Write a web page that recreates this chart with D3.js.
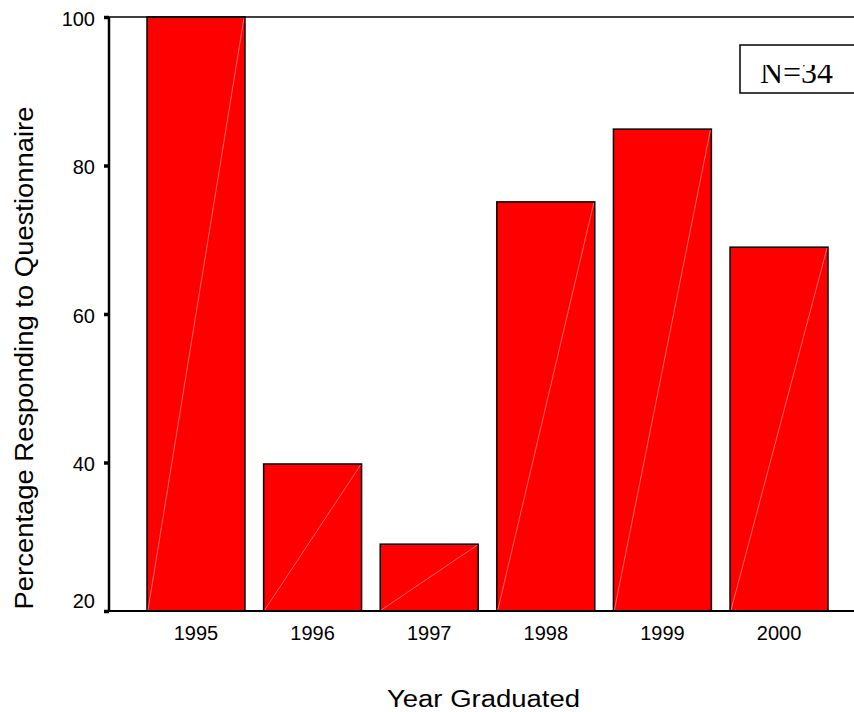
<!DOCTYPE html>
<html>
<head>
<meta charset="utf-8">
<script src="https://cdn.jsdelivr.net/npm/d3@7"></script>
<style>
  body { margin: 0; background: #fff; }
  svg { display: block; }
</style>
</head>
<body>
<script>
const years = ["1995", "1996", "1997", "1998", "1999", "2000"];
const pct = [100, 39.8, 29, 75.1, 84.9, 69];
const yTicks = [20, 40, 60, 80, 100];
const noteText = "N=34";

const W = 854, H = 712;
const plotL = 109, plotR = 866, plotT = 17, plotB = 611;
const sans = "Liberation Sans, Arial, sans-serif";

const svg = d3.select("body").append("svg")
    .attr("width", W).attr("height", H);

const x = d3.scaleBand().domain(years)
    .range([plotL, plotR])
    .paddingInner(0.16).paddingOuter(0.326);

const y = d3.scaleLinear().domain([20, 100]).range([plotB, plotT]);

// bars
const bars = svg.append("g").selectAll("g")
    .data(years.map((d, i) => ({ year: d, v: pct[i] })))
    .join("g");

bars.append("rect")
    .attr("x", d => x(d.year))
    .attr("y", d => y(d.v))
    .attr("width", x.bandwidth())
    .attr("height", d => y(20) - y(d.v))
    .attr("fill", "#ff0000")
    .attr("stroke", "#000")
    .attr("stroke-width", 1.5);

// faint diagonal streak inside each bar
bars.append("line")
    .attr("x1", d => x(d.year) + 1)
    .attr("y1", y(20) - 1)
    .attr("x2", d => x(d.year) + x.bandwidth() - 1)
    .attr("y2", d => y(d.v) + 1)
    .attr("stroke", "#ff8080")
    .attr("stroke-width", 0.8);

// frame lines
svg.append("line").attr("x1", plotL).attr("x2", W).attr("y1", plotT).attr("y2", plotT)
    .attr("stroke", "#000").attr("stroke-width", 1.5);
svg.append("line").attr("x1", plotL).attr("x2", W).attr("y1", plotB).attr("y2", plotB)
    .attr("stroke", "#000").attr("stroke-width", 2);

// y axis
const yAxis = svg.append("g")
    .attr("transform", `translate(${plotL},0)`)
    .call(d3.axisLeft(y).tickValues(yTicks).tickSize(5).tickPadding(9).tickFormat(d3.format("d")));
yAxis.select(".domain").attr("stroke", "#000").attr("stroke-width", 2.5)
    .attr("d", `M0,${plotT}V${plotB}`);
yAxis.selectAll(".tick line").attr("stroke", "#000").attr("stroke-width", 3.5);
yAxis.selectAll(".tick text")
    .attr("font-family", sans)
    .attr("font-size", 20).attr("fill", "#000")
    .attr("dy", "0.42em")
    .filter(d => d === 20).attr("dy", "-0.2em");

// x axis labels
const xAxis = svg.append("g")
    .attr("transform", `translate(0,${plotB})`)
    .call(d3.axisBottom(x).tickSize(0).tickPadding(15));
xAxis.select(".domain").remove();
xAxis.selectAll(".tick text")
    .attr("font-family", sans)
    .attr("font-size", 20).attr("fill", "#000");

// axis titles
svg.append("text")
    .attr("transform", `translate(33,358) rotate(-90)`)
    .attr("text-anchor", "middle")
    .attr("font-family", sans)
    .attr("font-size", 25)
    .attr("textLength", 503).attr("lengthAdjust", "spacingAndGlyphs")
    .text("Percentage Responding to Questionnaire");

svg.append("text")
    .attr("x", 483.5).attr("y", 707)
    .attr("text-anchor", "middle")
    .attr("font-family", sans)
    .attr("font-size", 23)
    .attr("textLength", 193).attr("lengthAdjust", "spacingAndGlyphs")
    .text("Year Graduated");

// N box
svg.append("clipPath").attr("id", "nclip")
    .append("rect").attr("x", 740).attr("y", 65).attr("width", 120).attr("height", 28);
svg.append("rect")
    .attr("x", 740).attr("y", 45).attr("width", 130).attr("height", 48)
    .attr("fill", "#fff").attr("stroke", "#000").attr("stroke-width", 1.5);
svg.append("text")
    .attr("x", 760).attr("y", 83)
    .attr("clip-path", "url(#nclip)")
    .attr("font-family", "Liberation Serif, Times New Roman, serif")
    .attr("font-size", 31)
    .attr("textLength", 73).attr("lengthAdjust", "spacingAndGlyphs")
    .text(noteText);
</script>
</body>
</html>
